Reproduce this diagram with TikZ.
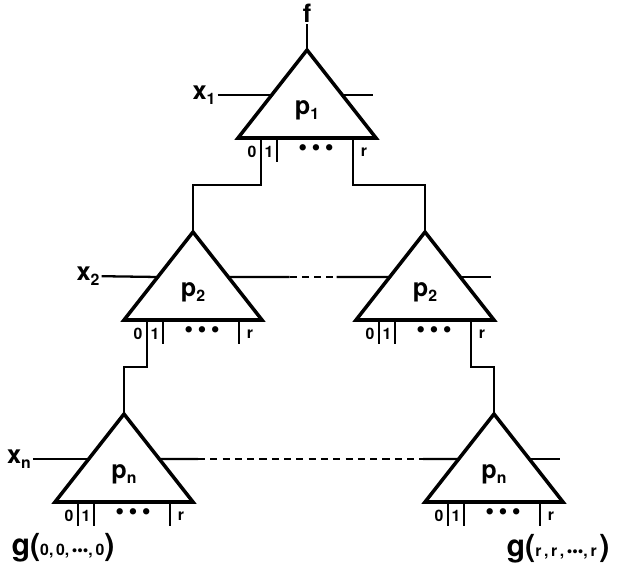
\documentclass[tikz,border=0pt]{standalone}
\usepackage{fontspec}
\setmainfont{TeX Gyre Heros}
\usepackage{tikz}
\usetikzlibrary{calc}

\tikzset{
  gateline/.style={line width=2pt, line join=miter},
  wire/.style={line width=1.3pt},
  gatelabel/.style={font=\Large\bfseries},
  portlabel/.style={font=\small\bfseries, inner sep=0pt},
  varlabel/.style={font=\Large\bfseries, inner sep=1pt},
}

% letter with a bold subscript
\newcommand{\lab}[2]{#1\raisebox{-0.4ex}{\small\bfseries #2}}

% one selector gate: name, apex x, apex y, label
\newcommand{\gate}[4]{%
  \coordinate (#1) at (#2,#3);
  \draw[gateline] (#1) -- ++(69,88) -- ++(-138,0) -- cycle;
  \node[gatelabel] (#1-lab) at ($(#1)+(0,60)$) {#4};
  \coordinate (#1-w) at ($(#1)+(-35,45)$);
  \coordinate (#1-e) at ($(#1)+(35,45)$);
  \coordinate (#1-ee) at ($(#1)+(66,45)$);
  \coordinate (#1-p0) at ($(#1)+(-46,88)$);
  \coordinate (#1-p1) at ($(#1)+(-30,88)$);
  \coordinate (#1-pr) at ($(#1)+(46,88)$);
  \draw[wire] (#1-p0) -- ++(0,24);
  \draw[wire] (#1-p1) -- ++(0,24);
  \draw[wire] (#1-pr) -- ++(0,24);
  \node[portlabel] (#1-l0) at ($(#1)+(-55,102)$) {0};
  \node[portlabel] (#1-l1) at ($(#1)+(-38,102)$) {1};
  \node[portlabel, font=\Large] (#1-ld) at ($(#1)+(9,101)$)
    {\textbullet\hspace{2.5pt}\textbullet\hspace{2.5pt}\textbullet};
  \node[portlabel] (#1-lr) at ($(#1)+(57,102)$) {r};
}

\begin{document}
\begin{tikzpicture}[x=0.02cm, y=-0.02cm]
  \useasboundingbox (0,0) rectangle (618,564);

  % gates
  \gate{top}{307}{50}{\lab{p}{1}}
  \gate{ml}{193}{232}{\lab{p}{2}}
  \gate{mr}{425}{232}{\lab{p}{2}}
  \gate{bl}{124}{414}{\lab{p}{n}}
  \gate{br}{494}{414}{\lab{p}{n}}

  % output
  \node[varlabel] (f) at (307,13) {f};
  \draw[wire] (top) -- (f);

  % variable lines
  \node[varlabel] (x1) at (204,95) {\lab{x}{1}};
  \node[varlabel] (x2) at (88,276) {\lab{x}{2}};
  \node[varlabel] (xn) at (19,459) {\lab{x}{n}};
  \draw[wire] (x1) -- (top-w);
  \draw[wire] (top-e) -- (top-ee);
  \draw[wire] (x2) -- (ml-w);
  \draw[wire] (ml-e) -- ($(ml-e)!0.38!(mr-w)$);
  \draw[wire, dash pattern=on 4pt off 3pt] ($(ml-e)!0.38!(mr-w)$) -- ($(ml-e)!0.67!(mr-w)$);
  \draw[wire] ($(ml-e)!0.67!(mr-w)$) -- (mr-w);
  \draw[wire] (mr-e) -- (mr-ee);
  \draw[wire] (xn) -- (bl-w);
  \draw[wire] (bl-e) -- ($(bl-e)!0.13!(br-w)$);
  \draw[wire, dash pattern=on 4pt off 3pt] ($(bl-e)!0.13!(br-w)$) -- ($(bl-e)!0.88!(br-w)$);
  \draw[wire] ($(bl-e)!0.88!(br-w)$) -- (br-w);
  \draw[wire] (br-e) -- (br-ee);

  % tree connections
  \draw[wire] (top-p0) |- ($(top-p0)!0.5!(ml)$) -| (ml);
  \draw[wire] (top-pr) |- ($(top-pr)!0.5!(mr)$) -| (mr);
  \draw[wire] (ml-p0) |- ($(ml-p0)!0.5!(bl)$) -| (bl);
  \draw[wire] (mr-pr) |- ($(mr-pr)!0.5!(br)$) -| (br);

  % leaves
  \node[font=\LARGE\bfseries, inner sep=0pt] (g0) at (63,548)
    {g({\small 0,\,0,\,\textbullet\textbullet\textbullet,\,0})};
  \node[font=\LARGE\bfseries, inner sep=0pt] (gr) at (558,549)
    {g({\small r\,,\,r\,,\,\textbullet\textbullet\textbullet,\,r\,})};
\end{tikzpicture}
\end{document}
